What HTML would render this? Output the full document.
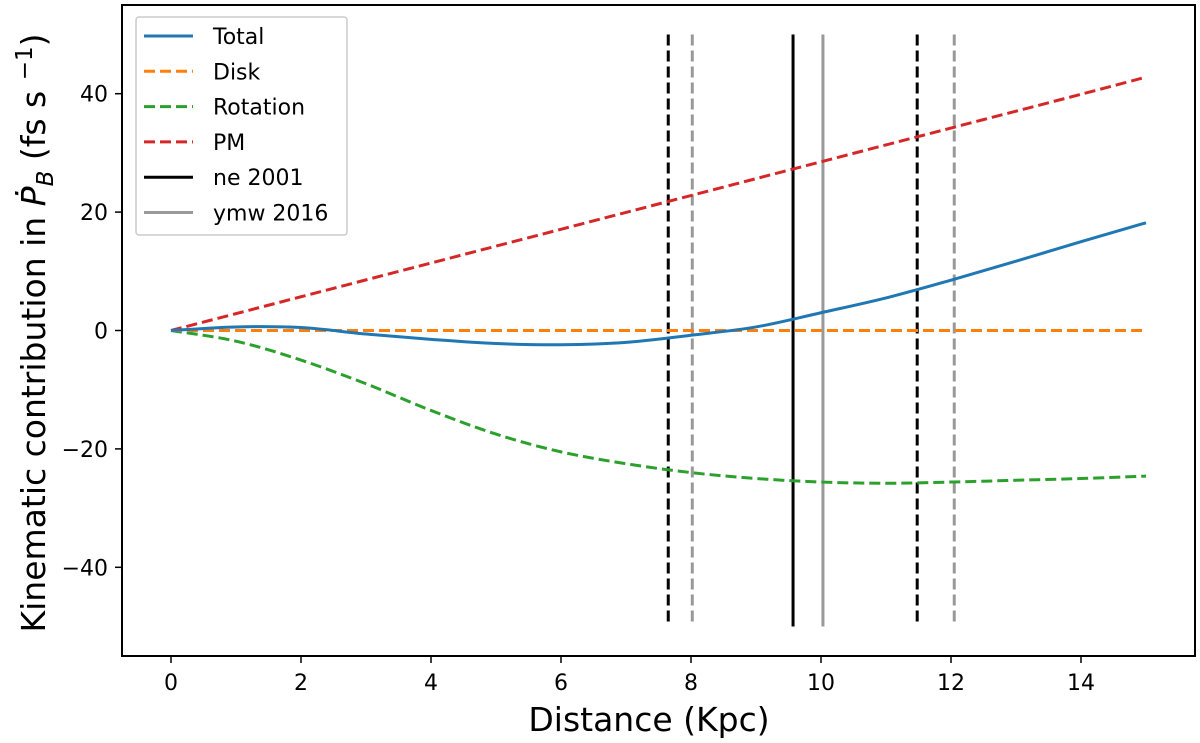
<!DOCTYPE html>
<html><head><meta charset="utf-8"><style>body{margin:0;background:#fff}svg{display:block;font-family:"DejaVu Sans","Liberation Sans",sans-serif}</style></head>
<body>
<svg id="c" width="1200" height="743" viewBox="0 0 1200 743"></svg>
<script>
const xs=[0,1,2,3,4,5,6,7,8,9,10,11,12,13,14,15];
const total=[0,0.6,0.5,-0.6,-1.5,-2.2,-2.4,-2.0,-0.8,0.6,3.0,5.5,8.5,11.7,15,18.2];
const disk=[0,0,0,0,0,0,0,0,0,0,0,0,0,0,0,0];
const rotation=[0,-1.8,-5,-9,-13.5,-17.5,-20.5,-22.5,-24,-25,-25.6,-25.8,-25.6,-25.3,-25,-24.6];
const pm=[0,2.85,5.7,8.55,11.4,14.25,17.1,19.95,22.8,25.65,28.5,31.35,34.2,37.05,39.9,42.8];
const vlinesNE=[7.65,9.57,11.48];
const vlinesYMW=[8.02,10.03,12.05];
const xTicks=[0,2,4,6,8,10,12,14];
const yTicks=[-40,-20,0,20,40];
const L=122,R=1195,T=5,B=656;
const X=v=>171+v*65, Y=v=>330.5-v*5.92;
const svg=document.getElementById('c');const NS='http://www.w3.org/2000/svg';
function mk(t,a,p){const e=document.createElementNS(NS,t);for(const k in a)e.setAttribute(k,a[k]);(p||svg).appendChild(e);return e;}
function path(arr){const p=xs.map((x,i)=>[X(x),Y(arr[i])]);let d='M'+p[0];for(let i=0;i<p.length-1;i++){const p0=p[i-1]||p[i],p1=p[i],p2=p[i+1],p3=p[i+2]||p2;d+=' C'+(p1[0]+(p2[0]-p0[0])/6)+','+(p1[1]+(p2[1]-p0[1])/6)+' '+(p2[0]-(p3[0]-p1[0])/6)+','+(p2[1]-(p3[1]-p1[1])/6)+' '+p2;}return d;}
vlinesNE.forEach((v,i)=>{const e=mk('line',{x1:X(v),x2:X(v),y1:Y(50),y2:Y(-50),stroke:'#000','stroke-width':3,'stroke-dasharray':i==1?'':'11,5'});

});
vlinesYMW.forEach((v,i)=>{const e=mk('line',{x1:X(v),x2:X(v),y1:Y(50),y2:Y(-50),stroke:'#999','stroke-width':3,'stroke-dasharray':i==1?'':'11,5'});

});
const series=[[pm,'#d62728','11,5','pm-line'],[rotation,'#2ca02c','11,5','rotation-line'],[disk,'#ff7f0e','11,5','disk-line'],[total,'#1f77b4','','total-line']];
series.forEach(s=>{const e=mk('path',{d:path(s[0]),fill:'none',stroke:s[1],'stroke-width':3,'stroke-dasharray':s[2]});

});
const fr=mk('rect',{x:L,y:T,width:R-L,height:B-T,fill:'none',stroke:'#000','stroke-width':2});


xTicks.forEach(v=>{mk('line',{x1:X(v),x2:X(v),y1:B,y2:B+7,stroke:'#000','stroke-width':1.5});const t=mk('text',{x:X(v),y:B+34,'font-size':22,'text-anchor':'middle'});t.textContent=v;

});
yTicks.forEach(v=>{mk('line',{x1:L-7,x2:L,y1:Y(v),y2:Y(v),stroke:'#000','stroke-width':1.5});const t=mk('text',{x:L-14,y:Y(v)+8,'font-size':22,'text-anchor':'end'});t.textContent=v<0?'\u2212'+(-v):v;

});
const xl=mk('text',{x:649,y:731,'font-size':33,'text-anchor':'middle'});xl.textContent='Distance (Kpc)';


const yl=mk('text',{x:0,y:0,'font-size':33,'text-anchor':'middle',transform:'translate(45,333) rotate(-90)'});
yl.innerHTML='Kinematic contribution in <tspan font-style="italic">Ṗ</tspan><tspan font-style="italic" font-size="23" dy="8">B</tspan><tspan dy="-8"> (fs s </tspan><tspan font-size="23" dy="-13">−1</tspan><tspan dy="13">)</tspan>';


const lg=mk('g',{});


mk('rect',{x:136,y:17,width:211,height:218,rx:3,fill:'#fff',stroke:'#ccc','stroke-width':1.5},lg);
const leg=[['Total','#1f77b4',''],['Disk','#ff7f0e','11,5'],['Rotation','#2ca02c','11,5'],['PM','#d62728','11,5'],['ne 2001','#000',''],['ymw 2016','#999','']];
leg.forEach((e,i)=>{const y=36+i*35.3;mk('line',{x1:144,x2:193,y1:y,y2:y,stroke:e[1],'stroke-width':3,'stroke-dasharray':e[2]},lg);const t=mk('text',{x:213,y:y+8,'font-size':22},lg);t.textContent=e[0];

});
</script>
</body></html>
